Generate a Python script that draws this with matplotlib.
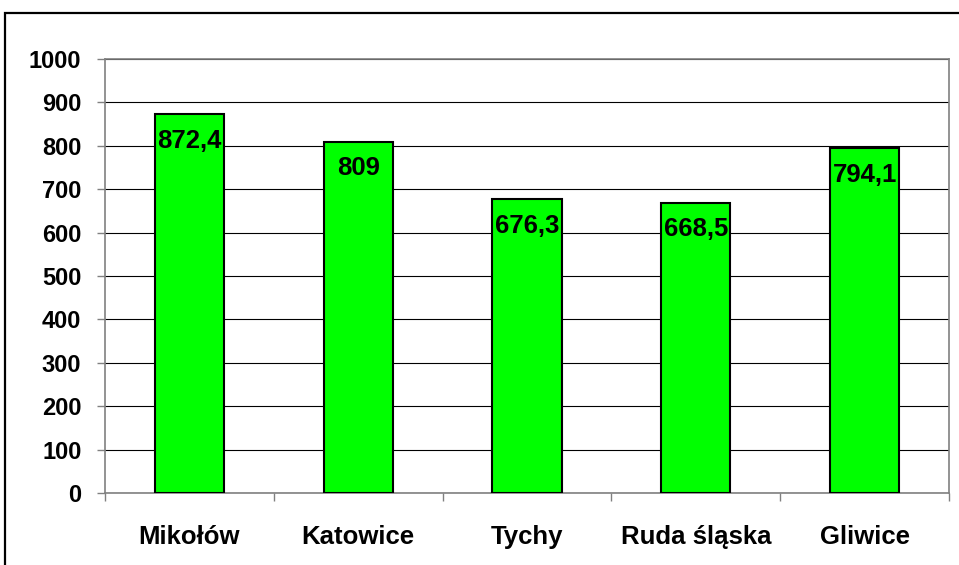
import numpy as np
import matplotlib
matplotlib.use("Agg")
import matplotlib.pyplot as plt
from matplotlib.patches import Rectangle

cities = ["Mikołów", "Katowice", "Tychy", "Ruda śląska", "Gliwice"]
values = [872.4, 809, 676.3, 668.5, 794.1]
labels = ["872,4", "809", "676,3", "668,5", "794,1"]
yticks = [0, 100, 200, 300, 400, 500, 600, 700, 800, 900, 1000]

plt.rcParams['font.family'] = ['Liberation Sans', 'DejaVu Sans']

fig = plt.figure(figsize=(9.59, 5.65), dpi=100)
# outer chart frame (runs off the right and bottom edge)
fig.patches.append(Rectangle((5 / 959, -0.05), 1.0, 1.05 - 13 / 565, transform=fig.transFigure,
                             fill=False, edgecolor="black", linewidth=1.6))

ax = fig.add_axes([105 / 959, 72 / 565, 844 / 959, 434 / 565])
x = np.arange(len(cities))
bars = ax.bar(x, values, width=0.41, color="#00ff00", edgecolor="black", linewidth=1.5, zorder=3)

for b, lab in zip(bars, labels):
    ax.annotate(lab, (b.get_x() + b.get_width() / 2, b.get_height()), xytext=(0, -19),
                textcoords="offset points", ha="center", va="center",
                fontsize=18.5, fontweight="bold", zorder=4)

ax.set_xlim(-0.5, len(cities) - 0.5)
ax.set_ylim(0, 1000)
ax.set_yticks(yticks)
ax.set_yticklabels([str(t) for t in yticks], fontsize=17, fontweight="bold")
ax.set_xticks(x)
ax.set_xticklabels(cities, fontsize=18.5, fontweight="bold")
ax.set_xticks(np.arange(len(cities) + 1) - 0.5, minor=True)

ax.yaxis.grid(True, color="black", linewidth=0.8, zorder=0)
ax.tick_params(axis="y", length=6, width=1, color="#808080", pad=11)
ax.tick_params(axis="x", which="major", length=0, pad=23)
ax.tick_params(axis="x", which="minor", length=6, width=1, color="#808080")
for s in ax.spines.values():
    s.set_color("#808080")
    s.set_linewidth(1.2)

fig.savefig("out.png", dpi=100)
